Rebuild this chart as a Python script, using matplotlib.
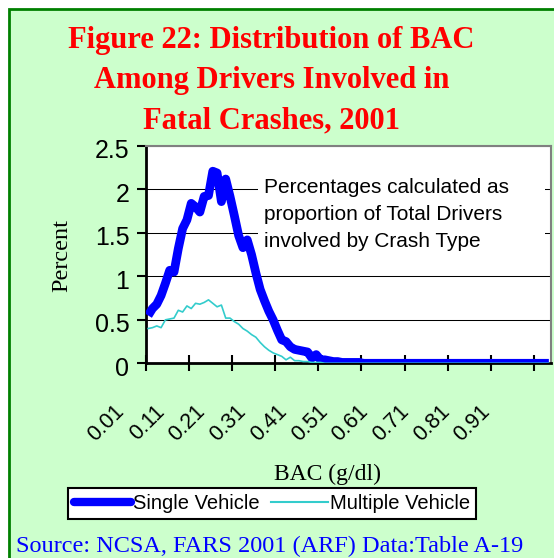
import matplotlib
matplotlib.use("Agg")
import matplotlib.pyplot as plt
import numpy as np
from matplotlib.patches import Rectangle
from matplotlib.lines import Line2D
from matplotlib.transforms import ScaledTranslation, blended_transform_factory

# percent of drivers at each BAC level 0.01 .. 0.94 g/dl
single_vehicle = [
    0.55, 0.63, 0.68, 0.78, 0.92, 1.07, 1.05, 1.32, 1.55, 1.65,
    1.84, 1.80, 1.74, 1.92, 1.93, 2.21, 2.19, 1.86, 2.12, 1.92,
    1.70, 1.47, 1.33, 1.42, 1.25, 1.04, 0.85, 0.72, 0.60, 0.50,
    0.38, 0.27, 0.25, 0.19, 0.16, 0.15, 0.14, 0.13, 0.06, 0.10,
    0.04, 0.04, 0.03, 0.02, 0.02, 0.01, 0.01, 0.01, 0.01, 0.01,
    0.00, 0.00, 0.00, 0.00, 0.00, 0.00, 0.00, 0.00, 0.00, 0.00,
    0.00, 0.00, 0.00, 0.00, 0.00, 0.00, 0.00, 0.00, 0.00, 0.00,
    0.00, 0.00, 0.00, 0.00, 0.00, 0.00, 0.00, 0.00, 0.00, 0.00,
    0.00, 0.00, 0.00, 0.00, 0.00, 0.00, 0.00, 0.00, 0.00, 0.00,
    0.00, 0.00, 0.00, 0.00,
]
multiple_vehicle = [
    0.40, 0.41, 0.43, 0.41, 0.50, 0.51, 0.52, 0.61, 0.59, 0.66,
    0.63, 0.69, 0.68, 0.70, 0.73, 0.69, 0.65, 0.67, 0.52, 0.52,
    0.48, 0.45, 0.40, 0.37, 0.33, 0.30, 0.24, 0.19, 0.15, 0.12,
    0.10, 0.08, 0.04, 0.07, 0.03, 0.03, 0.02, 0.02, 0.01, 0.01,
    0.01, 0.00, 0.00, 0.00, 0.00, 0.00, 0.00, 0.00, 0.00, 0.00,
    0.00, 0.00, 0.00, 0.00, 0.00, 0.00, 0.00, 0.00, 0.00, 0.00,
    0.00, 0.00, 0.00, 0.00, 0.00, 0.00, 0.00, 0.00, 0.00, 0.00,
    0.00, 0.00, 0.00, 0.00, 0.00, 0.00, 0.00, 0.00, 0.00, 0.00,
    0.00, 0.00, 0.00, 0.00, 0.00, 0.00, 0.00, 0.00, 0.00, 0.00,
    0.00, 0.00, 0.00, 0.00,
]
x_tick_labels = ["0.01", "0.11", "0.21", "0.31", "0.41",
                 "0.51", "0.61", "0.71", "0.81", "0.91"]
y_ticks = [0, 0.5, 1, 1.5, 2, 2.5]
y_tick_labels = ["0", "0.5", "1", "1.5", "2", "2.5"]
series_names = ["Single Vehicle", "Multiple Vehicle"]
title_lines = ["Figure 22: Distribution of BAC",
               "Among Drivers Involved in",
               "Fatal Crashes, 2001"]
note_lines = ["Percentages calculated as",
              "proportion of Total Drivers",
              "involved by Crash Type"]
source = "Source: NCSA, FARS 2001 (ARF) Data:Table A-19"

SANS = "Liberation Sans"
SERIF = "Liberation Serif"
plt.rcParams["font.family"] = SANS

W, H = 554, 558
fig = plt.figure(figsize=(W / 100, H / 100), dpi=100)
fig.patch.set_facecolor("white")

# light green panel with dark green frame (runs off the right/bottom edge)
fig.add_artist(Rectangle((8.7 / W, -0.05), 1.1, 1 - 8.5 / H + 0.05,
                         transform=fig.transFigure, facecolor="#CCFFCC",
                         edgecolor="#008000", linewidth=2, zorder=-10))

ax = fig.add_axes([146 / W, (H - 363.3) / H, 405 / W, 217.3 / H])
ax.set_facecolor("white")

x = np.arange(len(single_vehicle)) + 0.5
ax.plot(x, single_vehicle, color="#0000FF", lw=6.3,
        solid_joinstyle="round", solid_capstyle="butt", zorder=3)
ax.plot(x, multiple_vehicle, color="#33CCCC", lw=1.2, zorder=3)

ax.set_xlim(0, len(single_vehicle))
ax.set_ylim(0, 2.5)

tick_pos = np.arange(len(x_tick_labels)) * 10
ax.set_xticks(tick_pos)
ax.set_xticklabels([])
ax.tick_params(axis="x", direction="inout", length=12, width=1.5)

ax.set_yticks(y_ticks)
ax.set_yticklabels(y_tick_labels)
ax.tick_params(axis="y", direction="out", length=6.5, width=1.5, pad=5.5,
               labelsize=18)
for lab in ax.get_yticklabels():
    lab.set_transform(lab.get_transform() + ScaledTranslation(0, -0.03, fig.dpi_scale_trans))

ax.yaxis.grid(True, color="black", lw=0.75)
ax.set_axisbelow(True)

for side in ("left", "bottom"):
    ax.spines[side].set_color("black")
    ax.spines[side].set_linewidth(2)
for side in ("top", "right"):
    ax.spines[side].set_color("#808080")
    ax.spines[side].set_linewidth(1.5)

# rotated category labels (Excel drifts them left of the tick marks)
base = blended_transform_factory(ax.transData, ax.transAxes)
for j, lab in enumerate(x_tick_labels):
    dx = -(25 + 2.4 * j) / 100
    ax.text(tick_pos[j], 0, lab, fontsize=15.5, rotation=45,
            rotation_mode="anchor", ha="right", va="center", clip_on=False,
            transform=base + ScaledTranslation(dx, -0.45, fig.dpi_scale_trans))

# note box hides the gridlines behind the text
ax.add_patch(Rectangle((0.276, 0.498), 0.709, 0.391, transform=ax.transAxes,
                       facecolor="white", edgecolor="none", zorder=1.8))
for line, yb in zip(note_lines, (0.7828, 0.6585, 0.5343)):
    ax.text(0.291, yb, line, transform=ax.transAxes, fontsize=15,
            va="baseline", ha="left", zorder=4)

for line, yb in zip(title_lines, (48.3, 88.3, 128.3)):
    fig.text(271.5 / W, (H - yb) / H, line, family=SERIF, weight="bold",
             color="#FF0000", fontsize=22, ha="center", va="baseline")

fig.text(61.7 / W, (H - 255) / H, "Percent", family=SERIF, fontsize=17.5,
         rotation=90, ha="center", va="center")
fig.text(327 / W, (H - 480) / H, "BAC (g/dl)", family=SERIF, fontsize=17,
         ha="center", va="baseline")

handles = [Line2D([], [], color="#0000FF", lw=6, solid_capstyle="round"),
           Line2D([], [], color="#33CCCC", lw=1.5)]
leg = fig.legend(handles, series_names, loc="center",
                 bbox_to_anchor=(272 / W, (H - 503.5) / H), ncol=2,
                 frameon=True, fancybox=False, edgecolor="black",
                 framealpha=1, handlelength=2.8, handletextpad=0.1,
                 columnspacing=0.6, borderpad=0.3, borderaxespad=0,
                 prop={"family": SANS, "size": 14.5})
leg.get_frame().set_linewidth(1.5)

fig.text(16 / W, (H - 552.5) / H, source, family=SERIF, color="#0000FF",
         fontsize=17.5, ha="left", va="baseline")

fig.savefig("out.png", dpi=100)
